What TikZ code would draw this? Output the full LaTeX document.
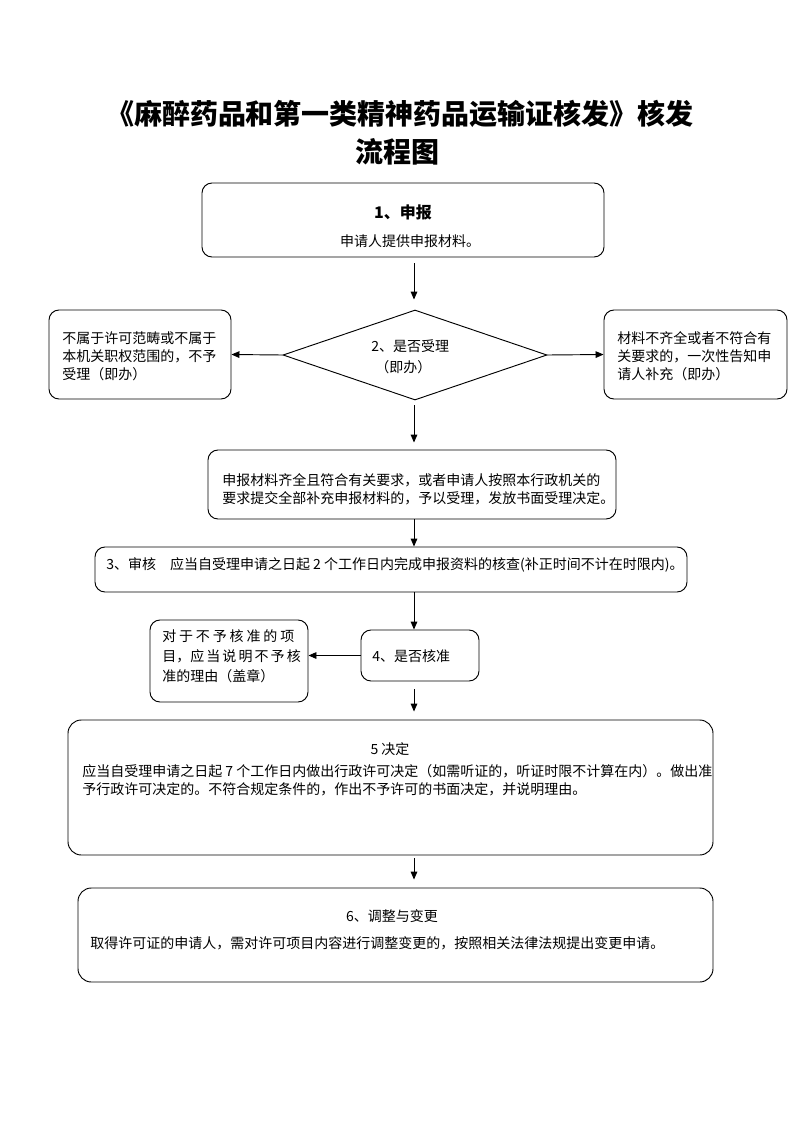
\documentclass[tikz,border=0pt]{standalone}
\usepackage{fontspec}
\setmainfont{Noto Sans CJK SC}
\usetikzlibrary{shapes.geometric,arrows.meta,calc}
\newlength\px \setlength\px{0.75pt}
\begin{document}
\begin{tikzpicture}[x=0.75pt,y=-0.75pt,
  box/.style={draw, rounded corners=7.5pt, line width=0.7pt, inner sep=0pt},
  bigbox/.style={box, rounded corners=10pt},
  txt/.style={inner sep=0pt, font=\fontsize{10.5pt}{13.5pt}\selectfont, align=left},
  ctxt/.style={inner sep=0pt, font=\fontsize{10.5pt}{13.5pt}\selectfont, align=center},
  ttl/.style={inner sep=0pt, font=\fontsize{21pt}{26pt}\selectfont\bfseries},
  arr/.style={-{Triangle[length=6pt,width=5pt]}, line width=0.7pt}]
\useasboundingbox (0,0) rectangle (793,1122);

% title
\node[ttl] (t1) at (400,114) {《麻醉药品和第一类精神药品运输证核发》核发};
\node[ttl] (t2) at (397,152) {流程图};

% boxes
\node[box, minimum width=402\px, minimum height=74\px] (b1) at (403,220) {};
\node[ctxt, font=\fontsize{12pt}{14pt}\selectfont\bfseries] (b1a) at (403,212) {1、申报};
\node[ctxt] (b1b) at (410,241) {申请人提供申报材料。};

\node[box, minimum width=182\px, minimum height=89\px] (la) at (140,354.5) {};
\node[txt, anchor=west] (lat) at (62,356) {不属于许可范畴或不属于\\本机关职权范围的，不予\\受理（即办）};

\node[draw, diamond, minimum width=264\px, minimum height=90\px, inner sep=0pt, line width=0.7pt] (d2) at (415,355) {};
\node[txt, anchor=west] (d2a) at (371,346) {2、是否受理};
\node[txt, anchor=west] (d2b) at (375,367) {（即办）};

\node[box, minimum width=183\px, minimum height=89\px] (ra) at (695.5,354.5) {};
\node[txt, anchor=west] (rat) at (617,356) {材料不齐全或者不符合有\\关要求的，一次性告知申\\请人补充（即办）};

\node[box, minimum width=408\px, minimum height=69\px] (mid) at (412,484.5) {};
\node[txt, anchor=west] (midt) at (222,489) {申报材料齐全且符合有关要求，或者申请人按照本行政机关的\\要求提交全部补充申报材料的，予以受理，发放书面受理决定。};

\node[box, minimum width=592\px, minimum height=45\px] (b3) at (391,569.5) {};
\node[txt, anchor=west] (b3t) at (106,565) {3、审核\quad 应当自受理申请之日起 2 个工作日内完成申报资料的核查(补正时间不计在时限内)。};

\node[box, minimum width=118\px, minimum height=51\px] (b4) at (420,655.5) {};
\node[txt, anchor=west] (b4t) at (372,656) {4、是否核准};

\node[box, minimum width=158\px, minimum height=82\px] (l4) at (229,661) {};
\node[txt, anchor=west, font=\fontsize{10.5pt}{15pt}\selectfont] (l4t) at (162,656)
  {\makebox[132\px][s]{对 于 不 予 核 准 的 项}\\\makebox[132\px][s]{目，应 当 说 明 不 予 核}\\准的理由（盖章）};

\node[bigbox, minimum width=645\px, minimum height=135\px] (b5) at (390.5,787.5) {};
\node[ctxt] (b5a) at (390,749) {5 决定};
\node[txt, anchor=west] (b5t) at (82,780) {应当自受理申请之日起 7 个工作日内做出行政许可决定（如需听证的，听证时限不计算在内）。做出准\\予行政许可决定的。不符合规定条件的，作出不予许可的书面决定，并说明理由。};

\node[bigbox, minimum width=635\px, minimum height=94\px] (b6) at (395.5,935) {};
\node[ctxt] (b6a) at (392,916) {6、调整与变更};
\node[txt, anchor=west] (b6t) at (90,943) {取得许可证的申请人，需对许可项目内容进行调整变更的，按照相关法律法规提出变更申请。};

% connectors
\coordinate (ax) at (414,0);
\draw[arr, shorten <=6\px, shorten >=10\px] (ax |- b1.south) -- (ax |- d2.north);
\draw[arr] (d2.west) -- (la.east);
\draw[arr] (d2.east) -- (ra.east -| ra.west);
\draw[arr, shorten <=5\px, shorten >=7\px] (ax |- d2.south) -- (ax |- mid.north);
\draw[arr] (ax |- mid.south) -- (ax |- b3.north);
\draw[arr] (ax |- b3.south) -- (ax |- b4.north);
\draw[arr] (b4.west) -- (b4.west -| l4.east);
\draw[arr, shorten <=8\px, shorten >=8\px] (ax |- b4.south) -- (ax |- b5.north);
\draw[arr, shorten <=3\px, shorten >=8\px] (ax |- b5.south) -- (ax |- b6.north);
\end{tikzpicture}
\end{document}
